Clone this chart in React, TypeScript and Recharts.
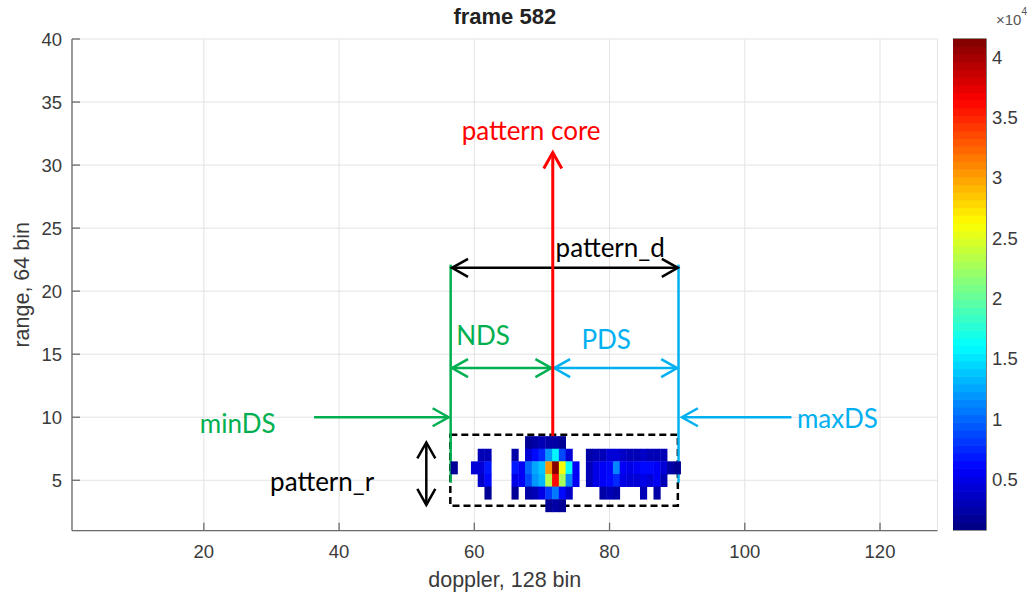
import React from 'react'
import {
  ComposedChart,
  Scatter,
  XAxis,
  YAxis,
  CartesianGrid,
  ReferenceLine,
  ReferenceArea,
  ReferenceDot,
} from 'recharts'

// ---- data: range-doppler map, frame 582 (doppler bins 57..90) ----
const DOPPLER_START = 57
const RANGE_BINS = [8, 7, 6, 5, 4, 3]

const n = null
const row8 = [n, n, n, n, n, n, n, n, n, n, n, 1600, 2400, 2800, 2600, 2200, 1800, n, n, n, n, n, n, n, n, n, n, n, n, n, n, n, n, n]
const row7 = [n, n, n, n, 2800, 3200, n, n, n, 2400, n, 4100, 6100, 7300, 11800, 15500, 8900, 4500, n, n, 2400, 2800, 3200, 4100, 4500, 3600, 3200, 3200, 3600, 3200, 2800, 2800, n, n]
const row6 = [2000, n, n, 4100, 4500, 6900, n, n, n, 6900, 5700, 9800, 12600, 13800, 30100, 41500, 26000, 16300, 5700, n, 3200, 4900, 5700, 6100, 11000, 5700, 4900, 5300, 6500, 6100, 5300, 4500, 2400, 1600]
const row5 = [n, n, n, n, 3600, 6100, n, n, n, 4900, 5700, 8900, 12200, 13000, 23600, 35800, 22800, 11000, 5300, n, 3200, 4900, 5700, 6100, 7700, 4900, 4500, 4100, 4900, 4500, 5700, 3200, n, n]
const row4 = [n, n, n, n, n, 2000, n, n, n, 1600, n, 2400, 3200, 4900, 8100, 10600, 6100, 3600, n, n, n, n, 2400, 2800, 2400, n, n, n, 2800, n, 2400, n, n, n]
const row3 = [n, n, n, n, n, n, n, n, n, n, n, n, n, n, 1600, 2400, 2000, n, n, n, n, n, n, n, n, n, n, n, n, n, n, n, n, n]
const ROWS = [row8, row7, row6, row5, row4, row3]

const xTicks = [20, 40, 60, 80, 100, 120]
const yTicks = [5, 10, 15, 20, 25, 30, 35, 40]
const cbTicks = [5000, 10000, 15000, 20000, 25000, 30000, 35000, 40000]
const C_MIN = 800
const C_MAX = 41500

// ---- layout ----
const W = 1031
const H = 594
const X_DOMAIN: [number, number] = [0.5, 128.5]
const Y_DOMAIN: [number, number] = [1, 40]
const M = { top: 39, right: 93.5, bottom: 0, left: 0 }
const Y_AXIS_W = 72
const X_AXIS_H = 63.3
const PLOT_W = W - M.left - M.right - Y_AXIS_W
const PLOT_H = H - M.top - M.bottom - X_AXIS_H
const CELL_W = PLOT_W / (X_DOMAIN[1] - X_DOMAIN[0])
const CELL_H = PLOT_H / (Y_DOMAIN[1] - Y_DOMAIN[0])

const CB_LEFT = 953
const CB_CHART_W = 78
const CB_AXIS_W = 45
const CB_M = { top: 39, right: 0, bottom: 64, left: 0 }
const CB_W = CB_CHART_W - CB_AXIS_W
const CB_H = H - CB_M.top - CB_M.bottom

const AXIS_COLOR = '#6b6b6b'
const TEXT_COLOR = '#3a3a3a'
const GREEN = '#00b050'
const CYAN = '#00b0f0'
const ANN_FONT = 'Lato, "Open Sans", sans-serif'
const ANN_SIZE = 26

function jet(t: number) {
  const c = (x: number) => Math.round(255 * Math.min(1, Math.max(0, x)))
  return `rgb(${c(1.5 - Math.abs(4 * t - 3))},${c(1.5 - Math.abs(4 * t - 2))},${c(1.5 - Math.abs(4 * t - 1))})`
}

function cellColor(v: number) {
  const idx = Math.min(63, Math.max(0, Math.floor(((v - C_MIN) / (C_MAX - C_MIN)) * 64)))
  return jet((idx + 0.5) / 64)
}

const cells = ROWS.flatMap((row, r) =>
  row
    .map((v, i) => (v == null ? null : { x: DOPPLER_START + i, y: RANGE_BINS[r], v }))
    .filter(Boolean),
) as { x: number; y: number; v: number }[]

// colormap steps for the colorbar
const cbLevels = Array.from({ length: 64 }, (_, i) => ({
  x: 0.5,
  y: C_MIN + ((i + 0.5) * (C_MAX - C_MIN)) / 64,
  fill: jet((i + 0.5) / 64),
}))

function Cell(props: any) {
  const { cx, cy, payload } = props
  if (cx == null || cy == null) return null
  return (
    <rect
      x={cx - CELL_W / 2}
      y={cy - CELL_H / 2}
      width={CELL_W + 0.4}
      height={CELL_H + 0.4}
      fill={cellColor(payload.v)}
    />
  )
}

function CbStep(props: any) {
  const { cx, cy, payload } = props
  if (cx == null || cy == null) return null
  const h = CB_H / 64
  return <rect x={cx - CB_W / 2} y={cy - h / 2 - 0.3} width={CB_W} height={h + 0.6} fill={payload.fill} />
}

function head(x: number, y: number, dx: number, dy: number, color: string, w: number) {
  const len = Math.hypot(dx, dy) || 1
  const ux = dx / len
  const uy = dy / len
  const L = 16
  const S = 9
  const bx = x - ux * L
  const by = y - uy * L
  return (
    <polyline
      points={`${bx - uy * S},${by + ux * S} ${x},${y} ${bx + uy * S},${by - ux * S}`}
      fill="none"
      stroke={color}
      strokeWidth={w}
    />
  )
}

function arrow(color: string, w: number, heads: 'none' | 'end' | 'both') {
  return (p: any) => {
    const { x1, y1, x2, y2 } = p
    return (
      <g>
        <line x1={x1} y1={y1} x2={x2} y2={y2} stroke={color} strokeWidth={w} />
        {heads !== 'none' && head(x2, y2, x2 - x1, y2 - y1, color, w)}
        {heads === 'both' && head(x1, y1, x1 - x2, y1 - y2, color, w)}
      </g>
    )
  }
}

function textShape(label: string, color: string) {
  return (p: any) => (
    <text
      x={p.cx}
      y={p.cy}
      textAnchor="middle"
      dominantBaseline="central"
      fill={color}
      fontFamily={ANN_FONT}
      fontSize={ANN_SIZE}
    >
      {label}
    </text>
  )
}

const XTitle = (p: any) => {
  const vb = p.viewBox
  return (
    <text x={vb.x + vb.width / 2} y={580} textAnchor="middle" dominantBaseline="central" fill={TEXT_COLOR} fontSize={21.5}>
      doppler, 128 bin
    </text>
  )
}

const YTitle = (p: any) => {
  const vb = p.viewBox
  return (
    <text
      transform={`translate(22, ${vb.y + vb.height / 2}) rotate(-90)`}
      textAnchor="middle"
      dominantBaseline="central"
      fill={TEXT_COLOR}
      fontSize={21.5}
    >
      range, 64 bin
    </text>
  )
}

const tickStyle = { fontSize: 18.5, fill: TEXT_COLOR }
const axisLine = { stroke: AXIS_COLOR, strokeWidth: 1.3 }

export default function App() {
  return (
    <div
      style={{
        position: 'absolute',
        left: 0,
        top: 0,
        width: W,
        height: H,
        overflow: 'hidden',
        background: '#fff',
        fontFamily: '"Liberation Sans", Arial, sans-serif',
      }}
    >
      <div
        style={{
          position: 'absolute',
          left: 0,
          top: 4,
          width: Y_AXIS_W * 2 + PLOT_W,
          textAlign: 'center',
          fontWeight: 'bold',
          fontSize: 22,
          color: '#222',
        }}
      >
        frame 582
      </div>

      <ComposedChart width={W} height={H} margin={M} style={{ position: 'absolute', left: 0, top: 0 }}>
        <CartesianGrid stroke="#e3e3e3" strokeWidth={1} />
        <XAxis
          type="number"
          dataKey="x"
          domain={X_DOMAIN}
          ticks={xTicks}
          allowDataOverflow
          height={X_AXIS_H}
          tick={tickStyle}
          tickSize={-8}
          tickMargin={22}
          axisLine={axisLine}
          tickLine={axisLine}
          label={{ content: XTitle }}
        />
        <XAxis
          xAxisId="top"
          orientation="top"
          type="number"
          domain={X_DOMAIN}
          ticks={xTicks}
          height={0}
          tickFormatter={() => ''}
          tickSize={-8}
          axisLine={axisLine}
          tickLine={axisLine}
        />
        <YAxis
          type="number"
          dataKey="y"
          domain={Y_DOMAIN}
          ticks={yTicks}
          allowDataOverflow
          width={Y_AXIS_W}
          tick={tickStyle}
          tickSize={-8}
          tickMargin={18}
          axisLine={axisLine}
          tickLine={axisLine}
          label={{ content: YTitle }}
        />
        <YAxis
          yAxisId="right"
          orientation="right"
          type="number"
          domain={Y_DOMAIN}
          ticks={yTicks}
          width={0}
          tickFormatter={() => ''}
          tickSize={-8}
          axisLine={axisLine}
          tickLine={axisLine}
        />

        <Scatter data={cells} shape={Cell} isAnimationActive={false} />

        {/* annotations */}
        <ReferenceArea
          x1={56.45}
          x2={90.1}
          y1={2.98}
          y2={8.62}
          fill="none"
          stroke="#000"
          strokeWidth={2.5}
          strokeDasharray="7 4"
        />
        <ReferenceLine segment={[{ x: 56.5, y: 22.1 }, { x: 56.5, y: 4.8 }]} shape={arrow(GREEN, 2.5, 'none')} />
        <ReferenceLine segment={[{ x: 90.2, y: 22.1 }, { x: 90.2, y: 4.8 }]} shape={arrow(CYAN, 2.5, 'none')} />
        <ReferenceLine segment={[{ x: 56.7, y: 21.85 }, { x: 90.1, y: 21.85 }]} shape={arrow('#000', 2.5, 'both')} />
        <ReferenceLine segment={[{ x: 56.7, y: 13.9 }, { x: 71.4, y: 13.9 }]} shape={arrow(GREEN, 2.5, 'both')} />
        <ReferenceLine segment={[{ x: 71.8, y: 13.9 }, { x: 90.0, y: 13.9 }]} shape={arrow(CYAN, 2.5, 'both')} />
        <ReferenceLine segment={[{ x: 36.3, y: 10 }, { x: 56.2, y: 10 }]} shape={arrow(GREEN, 2.5, 'end')} />
        <ReferenceLine segment={[{ x: 106.9, y: 10 }, { x: 90.7, y: 10 }]} shape={arrow(CYAN, 2.5, 'end')} />
        <ReferenceLine segment={[{ x: 52.9, y: 8.0 }, { x: 52.9, y: 3.05 }]} shape={arrow('#000', 2.5, 'both')} />
        <ReferenceLine segment={[{ x: 71.6, y: 6.3 }, { x: 71.6, y: 31 }]} shape={arrow('#ff0000', 3, 'end')} />

        <ReferenceDot x={68.4} y={32.8} r={0} shape={textShape('pattern core', '#ff0000')} />
        <ReferenceDot x={80.1} y={23.5} r={0} shape={textShape('pattern_d', '#000')} />
        <ReferenceDot x={61.3} y={16.5} r={0} shape={textShape('NDS', GREEN)} />
        <ReferenceDot x={79.5} y={16.2} r={0} shape={textShape('PDS', CYAN)} />
        <ReferenceDot x={25.0} y={9.55} r={0} shape={textShape('minDS', GREEN)} />
        <ReferenceDot x={113.7} y={9.9} r={0} shape={textShape('maxDS', CYAN)} />
        <ReferenceDot x={37.5} y={4.95} r={0} shape={textShape('pattern_r', '#000')} />
      </ComposedChart>

      {/* colorbar */}
      <ComposedChart
        width={CB_CHART_W}
        height={H}
        margin={CB_M}
        style={{ position: 'absolute', left: CB_LEFT, top: 0 }}
      >
        <XAxis type="number" dataKey="x" domain={[0, 1]} hide />
        <YAxis
          orientation="right"
          type="number"
          dataKey="y"
          domain={[C_MIN, C_MAX]}
          allowDataOverflow
          ticks={cbTicks}
          width={CB_AXIS_W}
          tick={tickStyle}
          tickFormatter={(v: number) => String(v / 10000)}
          tickSize={-6}
          tickMargin={12}
          axisLine={axisLine}
          tickLine={axisLine}
        />
        <Scatter data={cbLevels} shape={CbStep} isAnimationActive={false} />
        <ReferenceArea x1={0} x2={1} y1={C_MIN} y2={C_MAX} fill="none" stroke={AXIS_COLOR} strokeWidth={1.3} />
      </ComposedChart>

      <div style={{ position: 'absolute', left: 996, top: 12, fontSize: 15, color: '#555', whiteSpace: 'nowrap', lineHeight: 1 }}>
        ×10<sup style={{ fontSize: 10, verticalAlign: 'top', position: 'relative', top: -5 }}>4</sup>
      </div>
    </div>
  )
}
